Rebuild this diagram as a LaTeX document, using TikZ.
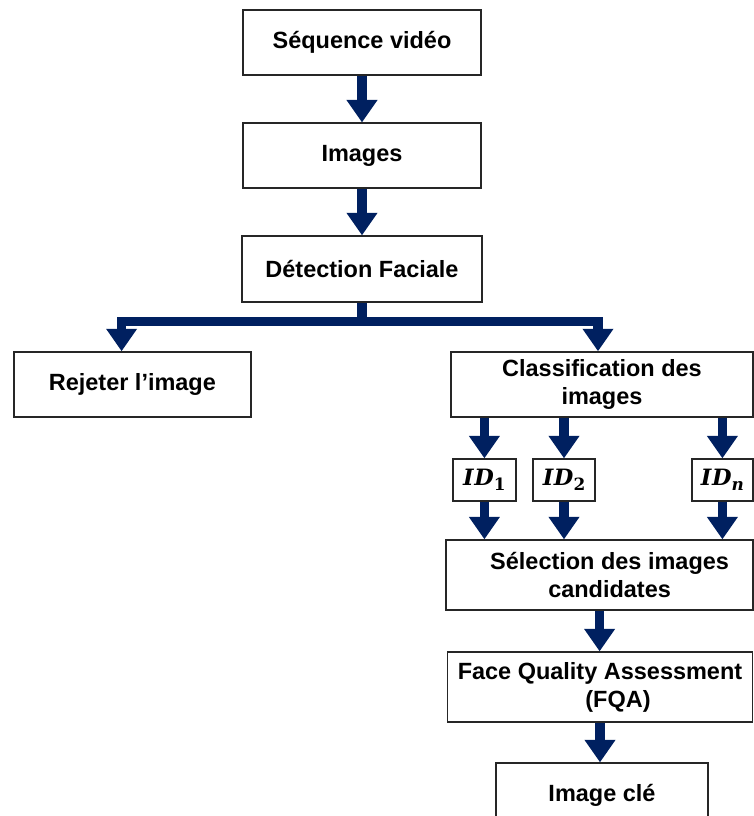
\documentclass[tikz,border=0pt]{standalone}
\usepackage[no-math]{fontspec}
\setmainfont{Liberation Sans}
\newfontfamily\idfont{DejaVu Serif}
\usetikzlibrary{arrows.meta}
\definecolor{flowblue}{RGB}{0,32,96}

% identity label: bold italic ID with a bold subscript
\newcommand{\idlabel}[1]{{\itshape I\kern0.5pt D}\raisebox{-0.45ex}{\fontsize{12}{14}\selectfont #1}}

\begin{document}
\begin{tikzpicture}[
    box/.style={rectangle, draw=black!85, line width=0.9pt, fill=white, inner sep=0pt,
      align=center, font=\bfseries\fontsize{16.7}{19.9}\selectfont},
    idbox/.style={rectangle, draw=black!85, line width=0.9pt, fill=white, inner sep=0pt,
      minimum height=1.05cm, font=\idfont\bfseries\fontsize{16}{19}\selectfont},
    flow/.style={draw=flowblue, line width=6.6pt, line join=miter},
    >={Triangle[width=21pt, length=16pt]}
  ]
  \clip (0, 0) rectangle (18.85, 20.4);

  \node (seq) [box, minimum width=5.95cm, minimum height=1.625cm] at (9.05, 19.34) {Séquence vidéo};
  \node (img) [box, minimum width=5.95cm, minimum height=1.625cm] at (9.05, 16.51) {Images};
  \node (det) [box, minimum width=6cm, minimum height=1.65cm] at (9.05, 13.675) {Détection Faciale};
  \coordinate (split) at (9.05, 12.36);

  \node (rej) [box, minimum width=5.925cm, minimum height=1.625cm] at (3.31, 10.79) {Rejeter l’image};
  \node (cls) [box, minimum width=7.55cm, minimum height=1.625cm] at (15.05, 10.79) {Classification des\\images};

  \node (id1) [idbox, minimum width=1.575cm] at (12.11, 8.4) {\idlabel{1}};
  \node (id2) [idbox, minimum width=1.55cm] at (14.1, 8.4) {\idlabel{2}};
  \node (idn) [idbox, minimum width=1.525cm] at (18.06, 8.4) {\idlabel{\itshape n}};

  \node (sel) [box, minimum width=7.675cm, minimum height=1.75cm] at (14.99, 6.025) {\hspace*{0.5cm}Sélection des images\\\hspace*{0.5cm}candidates};
  \node (fqa) [box, minimum width=7.625cm, minimum height=1.75cm] at (15.0, 3.225) {Face Quality Assessment\\\hspace*{0.9cm}(FQA)};
  \node (key) [box, minimum width=5.3cm, minimum height=1.625cm] at (15.05, 0.5125) {Image clé};

  \draw[flow, ->] (seq) -- (img);
  \draw[flow, ->] (img) -- (det);
  \draw[flow] (det.south) -- (split);
  \draw[flow, <->] ([xshift=-0.27cm]rej.north) |- (split) -| ([xshift=-0.1cm]cls.north);

  \foreach \id in {id1, id2, idn} {
    \draw[flow, ->] (cls.south -| \id.north) -- (\id.north);
    \draw[flow, ->] (\id.south) -- (\id.south |- sel.north);
  }

  \draw[flow, ->] (sel.south) -- (sel.south |- fqa.north);
  \draw[flow, ->] (fqa.south) -- (fqa.south |- key.north);
\end{tikzpicture}
\end{document}
